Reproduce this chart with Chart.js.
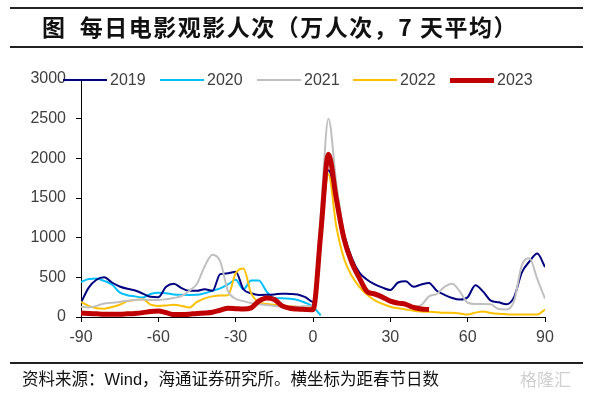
<!DOCTYPE html>
<html>
<head>
<meta charset="utf-8">
<script src="https://cdn.jsdelivr.net/npm/chart.js@4"></script>
<style>
  html, body { margin: 0; padding: 0; background: #fff; }
  #wrap { position: relative; width: 594px; height: 398px; overflow: hidden; }
  #chart { position: absolute; left: 0; top: 0; }
  .rule { position: absolute; left: 10px; width: 573px; height: 2px; background: #222; }
  #title { position: absolute; left: 0; width: 560px; top: 11px; text-align: center; letter-spacing: 1.5px;
    font-family: "Noto Sans CJK SC", sans-serif; font-weight: bold; font-size: 23px; color: #111; line-height: 30px; }
  #note { position: absolute; left: 22px; top: 367px; font-family: "Noto Sans CJK SC", sans-serif;
    font-size: 16.5px; color: #111; line-height: 22px; }
  #note .lat { font-family: "Liberation Sans", Arial, sans-serif; }
  #mark { position: absolute; left: 520px; top: 368px; font-family: "Noto Sans CJK SC", sans-serif;
    font-size: 17px; color: #d0d0d0; line-height: 22px; }
  .leg { position: absolute; top: 71px; height: 18px; }
  .leg i { position: absolute; left: 0; top: 9px; width: 44px; }
  .leg span { position: absolute; left: 47px; top: 0; font-family: "Liberation Sans", Arial, sans-serif;
    font-size: 16px; color: #404040; line-height: 18px; }
</style>
</head>
<body>
<div id="wrap">
  <canvas id="chart" width="594" height="398"></canvas>
  <div class="rule" style="top:7px"></div>
  <div id="title">图&nbsp;&nbsp;每日电影观影人次（万人次，7 天平均）</div>
  <div class="rule" style="top:46px"></div>
  <div id="legend"></div>
  <div class="rule" style="top:362px"></div>
  <div id="note">资料来源：<span class="lat">Wind</span>，海通证券研究所。横坐标为距春节日数</div>
  <div id="mark">格隆汇</div>
</div>
<script>
// 距春节日数
const days = [-90,-87,-84,-81,-78,-75,-72,-69,-66,-63,-60,-57,-54,-51,-48,-45,-42,-39,-36,-33,-30,-27,-24,-21,-18,-15,-12,-9,-6,-3,
  0,3,6,9,12,15,18,21,24,27,30,33,36,39,42,45,48,51,54,57,60,63,66,69,72,75,78,81,84,87,90];

const y2019 = [180,370,470,500,435,385,355,335,295,255,250,380,420,365,330,330,350,330,540,550,570,350,300,278,280,285,294,290,285,250,
  190,1000,1850,1500,1050,750,560,470,410,370,340,435,450,380,410,430,330,280,240,220,250,400,320,205,185,160,250,560,700,800,630];
const y2020 = [440,480,485,455,410,310,275,260,245,290,305,300,285,280,278,280,300,330,360,410,470,350,460,460,320,240,235,230,215,180,
  130,20,null,null,null,null,null,null,null,null,null,null,null,null,null,null,null,null,null,null,null,null,null,null,null,null,null,null,null,null,null];
const y2021 = [130,120,140,170,180,190,205,215,220,215,215,225,240,265,330,420,640,785,700,330,230,200,175,160,150,140,135,130,130,135,
  140,1300,2500,1700,1050,680,470,330,270,230,200,170,150,130,150,260,290,380,420,320,180,165,165,160,100,95,200,650,740,480,230];
const y2022 = [190,140,110,105,125,155,200,215,225,155,140,145,155,140,120,190,235,260,270,275,550,610,300,185,165,155,145,135,130,120,
  115,1000,1800,1150,740,520,380,280,210,165,130,110,95,80,70,65,60,55,55,45,30,55,70,50,40,35,30,30,30,30,95];
const y2023 = [50,45,40,35,35,35,40,45,55,70,75,55,30,30,35,45,50,60,85,110,105,100,115,200,240,220,140,110,100,95,
  90,1050,2050,1500,990,690,490,320,290,250,200,175,160,120,100,95,null,null,null,null,null,null,null,null,null,null,null,null,null,null,null];

const names = ['2019', '2020', '2021', '2022', '2023'];
const colors = ['#000080', '#00BFFF', '#C0C0C0', '#FFC000', '#C00000'];
const widths = [2, 2, 2, 2, 5];
const xTicks = [-90, -60, -30, 0, 30, 60, 90];
const yTicks = [0, 500, 1000, 1500, 2000, 2500, 3000];

const series = [y2019, y2020, y2021, y2022, y2023];
const drawOrder = [3, 4, 1, 2, 0];

// legend (html)
const legendLeft = [63, 160, 257, 353, 450];
const legend = document.getElementById('legend');
names.forEach(function(n, i) {
  const d = document.createElement('div');
  d.className = 'leg';
  d.style.left = legendLeft[i] + 'px';
  d.innerHTML = '<i style="border-top:' + widths[i] + 'px solid ' + colors[i] + ';margin-top:-' + (widths[i] / 2) + 'px"></i><span>' + n + '</span>';
  legend.appendChild(d);
});

const datasets = series.map(function(vals, i) {
  return {
    label: names[i],
    data: days.map(function(d, k) { return { x: d, y: vals[k] }; }),
    borderColor: colors[i],
    backgroundColor: colors[i],
    borderWidth: widths[i],
    pointRadius: 0,
    cubicInterpolationMode: 'monotone',
    spanGaps: false,
    order: drawOrder[i]
  };
});

const tickFont = { family: '"Liberation Sans", Arial, sans-serif', size: 16 };
const plain = function(v) { return String(v); };

new Chart(document.getElementById('chart').getContext('2d'), {
  type: 'line',
  data: { datasets: datasets },
  options: {
    responsive: false,
    animation: false,
    layout: { padding: { left: 0, right: 49, top: 79, bottom: 0 } },
    plugins: { legend: { display: false }, tooltip: { enabled: false } },
    scales: {
      x: {
        type: 'linear', min: -90, max: 90,
        afterBuildTicks: function(s) { s.ticks = xTicks.map(function(v) { return { value: v }; }); },
        ticks: { font: tickFont, color: '#404040', padding: 6, maxRotation: 0, callback: plain },
        grid: { display: true, drawOnChartArea: false, drawTicks: true, tickLength: 5, color: '#000' },
        border: { display: true, color: '#000', width: 1 },
        afterFit: function(s) { s.height = 81; }
      },
      y: {
        min: 0, max: 3000,
        afterBuildTicks: function(s) { s.ticks = yTicks.map(function(v) { return { value: v }; }); },
        ticks: { font: tickFont, color: '#404040', padding: 10, callback: plain },
        grid: { display: true, drawOnChartArea: false, drawTicks: true, tickLength: 5, color: '#000' },
        border: { display: true, color: '#000', width: 1 },
        afterFit: function(s) { s.width = 81; }
      }
    }
  }
});
</script>
</body>
</html>
